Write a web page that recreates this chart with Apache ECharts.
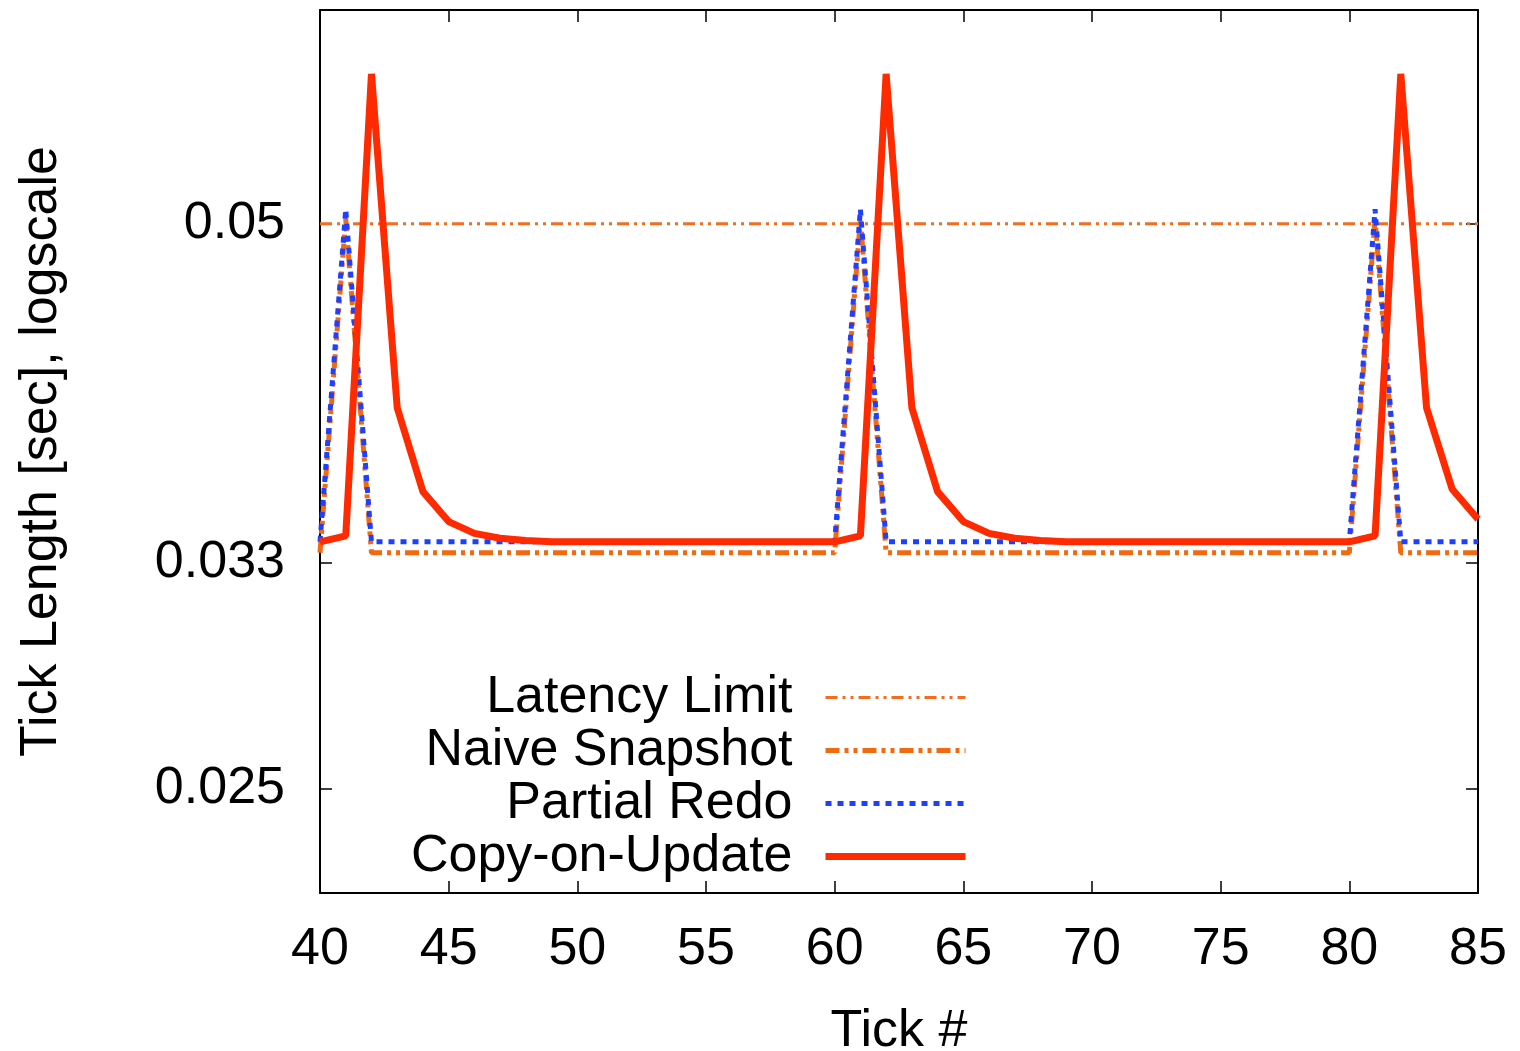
<!DOCTYPE html>
<html>
<head>
<meta charset="utf-8">
<script src="https://cdn.jsdelivr.net/npm/echarts@6/dist/echarts.min.js"></script>
<style>
  html, body { margin: 0; padding: 0; background: #fff; }
  #main { width: 1520px; height: 1051px; }
</style>
</head>
<body>
<div id="main"></div>
<script>
// tick numbers on the x axis
const tickNo = [40, 41, 42, 43, 44, 45, 46, 47, 48, 49, 50, 51, 52, 53, 54, 55, 56, 57, 58, 59,
  60, 61, 62, 63, 64, 65, 66, 67, 68, 69, 70, 71, 72, 73, 74, 75, 76, 77, 78, 79,
  80, 81, 82, 83, 84, 85];

// latency limit is flat, only the two ends
const latencyX = [40, 85];
const latencyLimit = [0.05, 0.05];

const naiveSnapshot = [0.0334, 0.0503, 0.0334, 0.0334, 0.0334, 0.0334, 0.0334, 0.0334, 0.0334, 0.0334,
  0.0334, 0.0334, 0.0334, 0.0334, 0.0334, 0.0334, 0.0334, 0.0334, 0.0334, 0.0334,
  0.0334, 0.0503, 0.0334, 0.0334, 0.0334, 0.0334, 0.0334, 0.0334, 0.0334, 0.0334,
  0.0334, 0.0334, 0.0334, 0.0334, 0.0334, 0.0334, 0.0334, 0.0334, 0.0334, 0.0334,
  0.0334, 0.0503, 0.0334, 0.0334, 0.0334, 0.0334];

const partialRedo = [0.03385, 0.0509, 0.03385, 0.03385, 0.03385, 0.03385, 0.03385, 0.03385, 0.03385, 0.03385,
  0.03385, 0.03385, 0.03385, 0.03385, 0.03385, 0.03385, 0.03385, 0.03385, 0.03385, 0.03385,
  0.03385, 0.0509, 0.03385, 0.03385, 0.03385, 0.03385, 0.03385, 0.03385, 0.03385, 0.03385,
  0.03385, 0.03385, 0.03385, 0.03385, 0.03385, 0.03385, 0.03385, 0.03385, 0.03385, 0.03385,
  0.03385, 0.0509, 0.03385, 0.03385, 0.03385, 0.03385];

const copyOnUpdate = [0.03385, 0.0341, 0.0601, 0.0399, 0.0360, 0.0347, 0.0342, 0.0340, 0.0339, 0.03385,
  0.03385, 0.03385, 0.03385, 0.03385, 0.03385, 0.03385, 0.03385, 0.03385, 0.03385, 0.03385,
  0.03385, 0.0341, 0.0601, 0.0399, 0.0360, 0.0347, 0.0342, 0.0340, 0.0339, 0.03385,
  0.03385, 0.03385, 0.03385, 0.03385, 0.03385, 0.03385, 0.03385, 0.03385, 0.03385, 0.03385,
  0.03385, 0.0341, 0.0601, 0.0399, 0.0361, 0.0348];

const yTicks = [0.025, 0.033, 0.05];

const font = "Liberation Sans";

// line looks, shared by series and legend samples
const looks = {
  "Latency Limit": { color: "#f36d21", width: 3, type: [12, 5, 3, 5, 3, 5] },
  "Naive Snapshot": { color: "#f26a10", width: 5, type: [14, 5, 4, 5, 4, 5] },
  "Partial Redo": { color: "#1f3fff", width: 5, type: [6, 6] },
  "Copy-on-Update": { color: "#ff2a00", width: 7, type: "solid" },
};

let pairs = (xs, ys) => xs.map((x, i) => [x, ys[i]]);

let axisBase = {
  axisLine: { show: true, onZero: false, lineStyle: { color: "#000", width: 2 } },
  axisTick: { show: true, inside: true, length: 12, lineStyle: { color: "#000", width: 1.5 } },
  splitLine: { show: false },
};

let lineSeries = (name, xs, ys) => ({
  name: name,
  type: "line",
  symbol: "none",
  data: pairs(xs, ys),
  lineStyle: { ...looks[name] },
  itemStyle: { color: looks[name].color },
});

let myChart = echarts.init(document.getElementById("main"));
let option = {
  animation: false,
  backgroundColor: "#fff",
  grid: { left: 320, right: 42, top: 10, bottom: 158, outerBoundsMode: "none", containLabel: false },
  legend: {
    orient: "vertical",
    align: "right",
    right: 551,
    top: 671,
    padding: 0,
    itemGap: 0,
    itemWidth: 140,
    itemHeight: 14,
    itemStyle: { opacity: 0 },
    textStyle: { fontFamily: font, fontSize: 52, color: "#000", lineHeight: 53, padding: [0, 28, 0, 0] },
    data: Object.keys(looks).map((name) => ({ name: name, lineStyle: { ...looks[name] } })),
  },
  xAxis: [
    {
      ...axisBase,
      type: "value",
      position: "bottom",
      min: 40,
      max: 85,
      interval: 5,
      name: "Tick #",
      nameLocation: "middle",
      nameGap: 113,
      nameTextStyle: { fontFamily: font, fontSize: 52, color: "#000" },
      axisLabel: { fontFamily: font, fontSize: 52, color: "#000", margin: 31 },
    },
    {
      ...axisBase,
      type: "value",
      position: "top",
      min: 40,
      max: 85,
      interval: 5,
      axisLabel: { show: false },
    },
  ],
  yAxis: [
    {
      ...axisBase,
      type: "log",
      position: "left",
      min: 0.022,
      max: 0.065,
      name: "Tick Length [sec], logscale",
      nameLocation: "middle",
      nameGap: 252,
      nameTextStyle: { fontFamily: font, fontSize: 52, color: "#000" },
      axisTick: { ...axisBase.axisTick, customValues: yTicks },
      axisLabel: {
        fontFamily: font, fontSize: 52, color: "#000", margin: 35,
        customValues: yTicks,
        formatter: (v) => String(+(+v).toPrecision(3)),
      },
    },
    {
      ...axisBase,
      type: "log",
      position: "right",
      min: 0.022,
      max: 0.065,
      axisTick: { ...axisBase.axisTick, customValues: yTicks },
      axisLabel: { show: false, customValues: yTicks },
    },
  ],
  series: [
    lineSeries("Latency Limit", latencyX, latencyLimit),
    lineSeries("Naive Snapshot", tickNo, naiveSnapshot),
    lineSeries("Partial Redo", tickNo, partialRedo),
    lineSeries("Copy-on-Update", tickNo, copyOnUpdate),
  ],
};
myChart.setOption(option);
</script>
</body>
</html>
